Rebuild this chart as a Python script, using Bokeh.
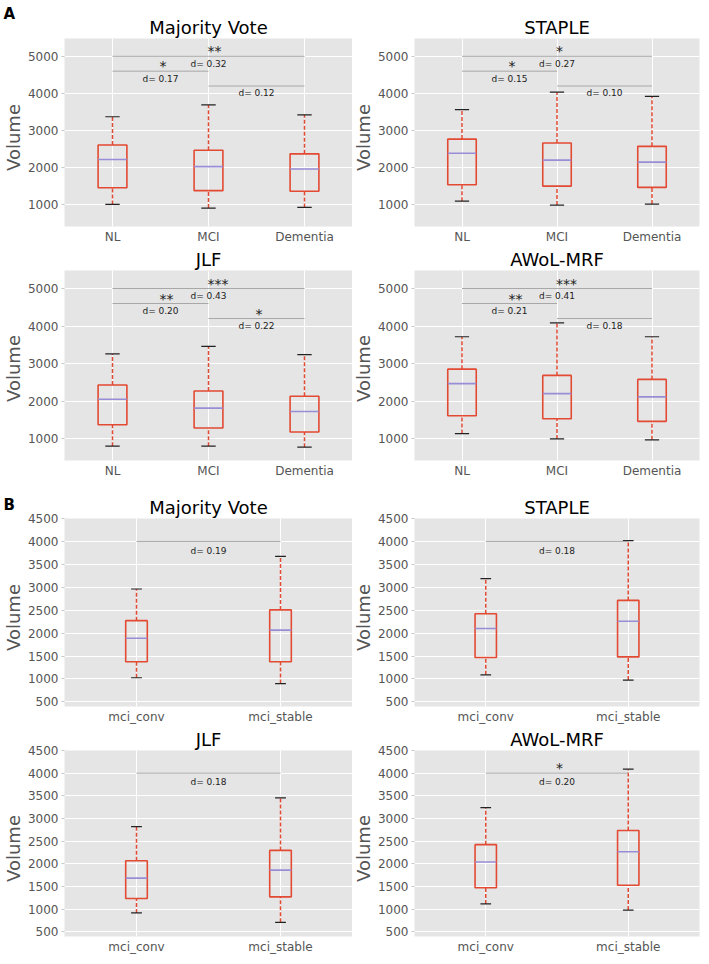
import math
from bokeh.plotting import figure
from bokeh.models import Range1d, FixedTicker, ColumnDataSource
from bokeh.layouts import column, row
from bokeh.embed import file_html
from bokeh.resources import INLINE
from bokeh.core.properties import value

# ---------------- data ----------------
GROUPS_A = ["NL", "MCI", "Dementia"]
GROUPS_B = ["mci_conv", "mci_stable"]
METHODS = ["Majority Vote", "STAPLE", "JLF", "AWoL-MRF"]
SECTIONS = ["A", "B"]
Y_LABEL = "Volume"
Y_TICKS_A = [1000, 2000, 3000, 4000, 5000]
Y_TICKS_B = [500, 1000, 1500, 2000, 2500, 3000, 3500, 4000, 4500]

# Panel A (NL, MCI, Dementia): whisker low, Q1, median, Q3, whisker high
MV_A_LOW = [1010, 912, 929]
MV_A_Q1 = [1460, 1381, 1363]
MV_A_MED = [2221, 2027, 1965]
MV_A_Q3 = [2611, 2469, 2372]
MV_A_HIGH = [3372, 3690, 3425]

ST_A_LOW = [1097, 991, 1018]
ST_A_Q1 = [1540, 1504, 1469]
ST_A_MED = [2389, 2204, 2150]
ST_A_Q3 = [2770, 2664, 2575]
ST_A_HIGH = [3566, 4035, 3920]

JL_A_LOW = [797, 797, 771]
JL_A_Q1 = [1370, 1282, 1176]
JL_A_MED = [2048, 1811, 1722]
JL_A_Q3 = [2427, 2269, 2128]
JL_A_HIGH = [3256, 3458, 3238]

AW_A_LOW = [1132, 991, 965]
AW_A_Q1 = [1608, 1529, 1458]
AW_A_MED = [2463, 2198, 2110]
AW_A_Q3 = [2850, 2683, 2577]
AW_A_HIGH = [3714, 4084, 3714]

# comparisons in A: NL-Dementia, NL-MCI, MCI-Dementia
PAIRS_A = [(0, 2), (0, 1), (1, 2)]
MV_A_D = [0.32, 0.17, 0.12]
MV_A_SIG = ["**", "*", ""]
ST_A_D = [0.27, 0.15, 0.10]
ST_A_SIG = ["*", "*", ""]
JL_A_D = [0.43, 0.20, 0.22]
JL_A_SIG = ["***", "**", "*"]
AW_A_D = [0.41, 0.21, 0.18]
AW_A_SIG = ["***", "**", ""]

# Panel B (mci_conv, mci_stable)
MV_B_LOW = [1027, 899]
MV_B_Q1 = [1375, 1375]
MV_B_MED = [1888, 2066]
MV_B_Q3 = [2272, 2507]
MV_B_HIGH = [2963, 3674]

ST_B_LOW = [1091, 977]
ST_B_Q1 = [1468, 1482]
ST_B_MED = [2101, 2258]
ST_B_Q3 = [2422, 2714]
ST_B_HIGH = [3190, 4016]

JL_B_LOW = [919, 713]
JL_B_Q1 = [1239, 1274]
JL_B_MED = [1687, 1864]
JL_B_Q3 = [2070, 2298]
JL_B_HIGH = [2823, 3456]

AW_B_LOW = [1118, 983]
AW_B_Q1 = [1473, 1530]
AW_B_MED = [2042, 2269]
AW_B_Q3 = [2425, 2738]
AW_B_HIGH = [3242, 4088]

PAIRS_B = [(0, 1)]
MV_B_D = [0.19]
MV_B_SIG = [""]
ST_B_D = [0.18]
ST_B_SIG = [""]
JL_B_D = [0.18]
JL_B_SIG = [""]
AW_B_D = [0.20]
AW_B_SIG = ["*"]

# ---------------- style / layout ----------------
RED = "#E24A33"
MEDIAN = "#988ED5"
BG = "#E5E5E5"
TXT = "#555555"
FONT = "DejaVu Sans"
FRAME_W = 288
LEVELS_A = [5000, 4600, 4200]
LEVELS_B = [4000]
D_OFFSET = 200
YR_A = (415, 5480)
YR_B = (400, 4500)

# helper strip widths / plot borders
H1_W, H2_W = 24, 22
L_BL, L_BR = 40, 0
R_BL, R_BR = 37, 2


def make_panel(title, groups, low, q1, med, q3, high, pairs, dvals, sigs,
               levels, yr, yticks, bl, br, top_b, frame_h, bottom_b):
    n = len(groups)
    xs = list(range(1, n + 1))
    box_w = min(0.15 * max(n - 1, 1), 0.5)
    p = figure(width=bl + FRAME_W + br, height=top_b + frame_h + bottom_b,
               x_range=Range1d(0.5, n + 0.5), y_range=Range1d(*yr),
               output_backend="svg", toolbar_location=None, tools="",
               min_border_left=bl, min_border_right=br,
               min_border_top=top_b, min_border_bottom=bottom_b,
               background_fill_color=BG, border_fill_color="white",
               outline_line_color=None, title=title)
    p.title.text_font = FONT
    p.title.text_font_size = "18px"
    p.title.text_font_style = "normal"
    p.title.text_color = "black"
    p.title.align = "center"
    p.title.standoff = 1

    p.grid.grid_line_color = "white"
    p.grid.grid_line_width = 1
    p.xaxis.ticker = FixedTicker(ticks=xs)
    p.xaxis.major_label_overrides = {x: g for x, g in zip(xs, groups)}
    p.yaxis.ticker = FixedTicker(ticks=yticks)
    for ax in (p.xaxis, p.yaxis):
        ax.axis_line_color = None
        ax.minor_tick_line_color = None
        ax.major_tick_in = 0
        ax.major_tick_line_color = "#C8C8C8"
        ax.major_label_text_font = FONT
        ax.major_label_text_font_size = "12px"
        ax.major_label_text_color = TXT
    p.xaxis.major_tick_out = 0
    p.xaxis.major_label_standoff = 3
    p.yaxis.major_tick_out = 3
    p.yaxis.major_label_standoff = 3

    src = ColumnDataSource(dict(
        x=xs,
        left=[x - box_w / 2 for x in xs],
        right=[x + box_w / 2 for x in xs],
        cl=[x - box_w / 4 for x in xs],
        cr=[x + box_w / 4 for x in xs],
        low=low, q1=q1, med=med, q3=q3, high=high))

    p.segment(x0="x", y0="q3", x1="x", y1="high", source=src,
              line_color=RED, line_width=1.5, line_dash="4 2")
    p.segment(x0="x", y0="low", x1="x", y1="q1", source=src,
              line_color=RED, line_width=1.5, line_dash="4 2")
    p.segment(x0="cl", y0="high", x1="cr", y1="high", source=src,
              line_color="#222222", line_width=1.2)
    p.segment(x0="cl", y0="low", x1="cr", y1="low", source=src,
              line_color="#222222", line_width=1.2)
    p.quad(left="left", right="right", bottom="q1", top="q3", source=src,
           fill_color=None, line_color=RED, line_width=1.6)
    p.segment(x0="left", y0="med", x1="right", y1="med", source=src,
              line_color=MEDIAN, line_width=1.6)

    # significance brackets with effect sizes and stars
    bx0 = [xs[i] for i, j in pairs]
    bx1 = [xs[j] for i, j in pairs]
    mids = [(xs[i] + xs[j]) / 2 for i, j in pairs]
    p.segment(x0=bx0, y0=levels, x1=bx1, y1=levels,
              line_color="#A8A8A8", line_width=1)
    p.text(x=mids, y=[lv - D_OFFSET for lv in levels],
           text=["d= %.2f" % d for d in dvals],
           text_align="center", text_baseline="middle",
           text_font_size="9px", text_color="#222222",
           text_font=value(FONT))
    sx = [m for m, s in zip(mids, sigs) if s]
    sy = [lv for lv, s in zip(levels, sigs) if s]
    st = [s for s in sigs if s]
    if st:
        p.text(x=sx, y=sy, text=st, text_align="left",
               text_baseline="alphabetic", x_offset=-1, y_offset=-5,
               text_font_size="14px", text_color="#222222",
               text_font=value(FONT))
    return p


def make_strip(width, height, vol_x, vol_y, letter=None, letter_y=0):
    # narrow white strip holding the rotated y-axis title (and panel letter)
    s = figure(width=width, height=height,
               x_range=Range1d(0, width), y_range=Range1d(0, height),
               output_backend="svg", toolbar_location=None, tools="",
               x_axis_location=None, y_axis_location=None,
               title_location=None, frame_align=False,
               min_border=0, min_border_left=0, min_border_right=0,
               min_border_top=0, min_border_bottom=0,
               background_fill_color="white", border_fill_color="white",
               outline_line_color=None)
    s.grid.visible = False
    s.text(x=[vol_x], y=[height - vol_y], text=[Y_LABEL], angle=math.pi / 2,
           text_align="center", text_baseline="middle",
           text_font=value(FONT), text_font_size="18px", text_color=TXT)
    if letter:
        s.text(x=[3], y=[height - letter_y], text=[letter],
               text_align="left", text_baseline="top",
               text_font=value(FONT), text_font_size="15px",
               text_font_style="bold", text_color="black")
    return s


A_DATA = [
    (MV_A_LOW, MV_A_Q1, MV_A_MED, MV_A_Q3, MV_A_HIGH, MV_A_D, MV_A_SIG),
    (ST_A_LOW, ST_A_Q1, ST_A_MED, ST_A_Q3, ST_A_HIGH, ST_A_D, ST_A_SIG),
    (JL_A_LOW, JL_A_Q1, JL_A_MED, JL_A_Q3, JL_A_HIGH, JL_A_D, JL_A_SIG),
    (AW_A_LOW, AW_A_Q1, AW_A_MED, AW_A_Q3, AW_A_HIGH, AW_A_D, AW_A_SIG),
]
B_DATA = [
    (MV_B_LOW, MV_B_Q1, MV_B_MED, MV_B_Q3, MV_B_HIGH, MV_B_D, MV_B_SIG),
    (ST_B_LOW, ST_B_Q1, ST_B_MED, ST_B_Q3, ST_B_HIGH, ST_B_D, ST_B_SIG),
    (JL_B_LOW, JL_B_Q1, JL_B_MED, JL_B_Q3, JL_B_HIGH, JL_B_D, JL_B_SIG),
    (AW_B_LOW, AW_B_Q1, AW_B_MED, AW_B_Q3, AW_B_HIGH, AW_B_D, AW_B_SIG),
]
# (top border, frame height, bottom border) per row
ROW_DIMS = [(38, 190, 18), (22, 192, 26), (32, 190, 18), (22, 192, 16)]
LETTER_Y = {0: 4, 2: 9}

rows = []
for r in range(4):
    sec = r // 2
    top_b, fh, bot_b = ROW_DIMS[r]
    h = top_b + fh + bot_b
    figs = []
    for c in range(2):
        idx = (r % 2) * 2 + c
        if sec == 0:
            lo, a, m, b, hi, dv, sg = A_DATA[idx]
            groups, pairs, levels, yr, yt = GROUPS_A, PAIRS_A, LEVELS_A, YR_A, Y_TICKS_A
        else:
            lo, a, m, b, hi, dv, sg = B_DATA[idx]
            groups, pairs, levels, yr, yt = GROUPS_B, PAIRS_B, LEVELS_B, YR_B, Y_TICKS_B
        bl, br = (L_BL, L_BR) if c == 0 else (R_BL, R_BR)
        figs.append(make_panel(METHODS[idx], groups, lo, a, m, b, hi, pairs,
                               dv, sg, levels, yr, yt, bl, br, top_b, fh,
                               bot_b))
    vol_y = top_b + fh / 2 + 4
    letter = SECTIONS[sec] if r in LETTER_Y else None
    s1 = make_strip(H1_W, h, 13, vol_y, letter, LETTER_Y.get(r, 0))
    s2 = make_strip(H2_W, h, 11, vol_y)
    rows.append(row(s1, figs[0], s2, figs[1]))

layout = column(*rows)

open("out.html", "w").write(file_html(layout, INLINE))
